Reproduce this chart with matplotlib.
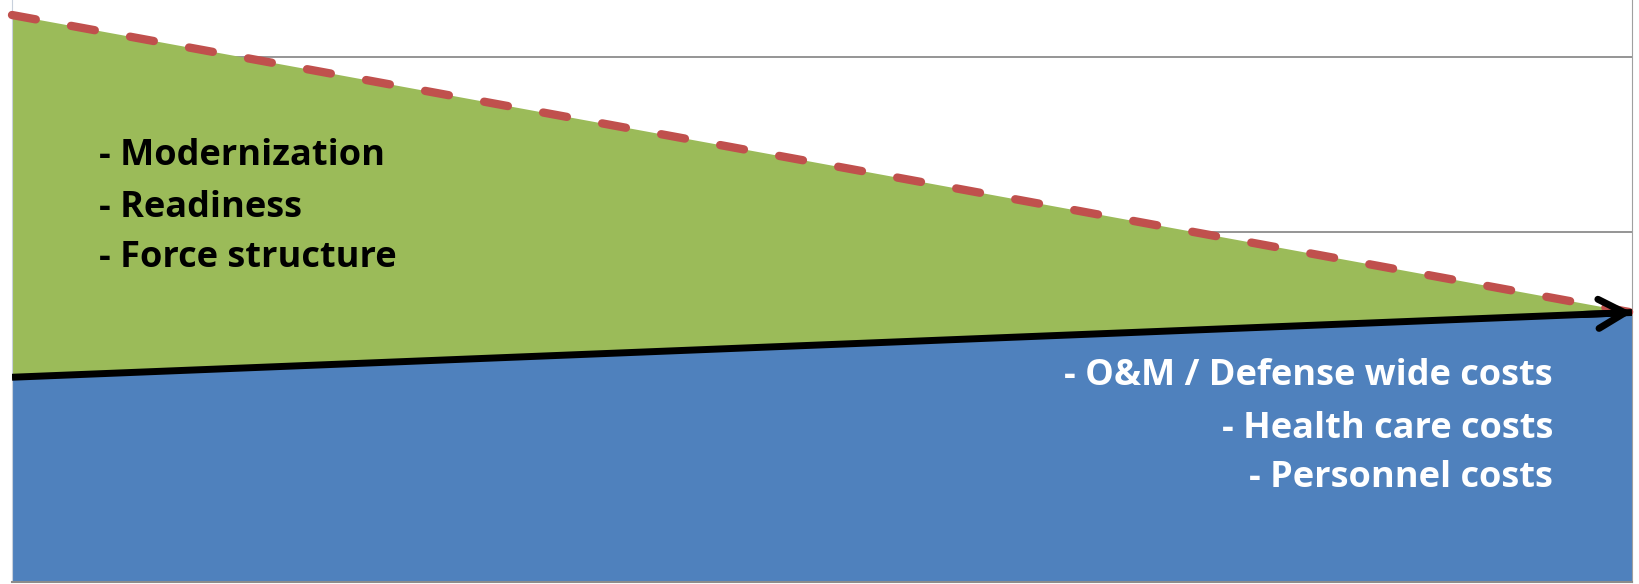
import matplotlib.pyplot as plt

# two points in time, stacked budget areas
years = [0, 1]
fixed_costs = [1.17, 1.54]      # blue area (personnel, health care, O&M)
other_costs = [2.07, 0.0]       # green area (modernization, readiness, force structure)
total = [f + o for f, o in zip(fixed_costs, other_costs)]

left_items = ["- Modernization", "- Readiness", "- Force structure"]
right_items = ["- O&M / Defense wide costs", "- Health care costs", "- Personnel costs"]

W, H = 1640, 584
fig = plt.figure(figsize=(W / 100, H / 100), dpi=100)
ax = fig.add_axes([12 / W, 2 / H, 1620 / W, 582 / H])

ax.set_xlim(0, 1)
ax.set_ylim(0, 582 / 175)
ax.set_yticks([1, 2, 3])
ax.grid(axis="y", color="#8c8c8c", lw=1.3)
ax.set_axisbelow(True)
ax.tick_params(left=False, bottom=False, labelleft=False, labelbottom=False)
ax.spines["top"].set_visible(False)
ax.spines["left"].set_color("#c8d0dc")
ax.spines["right"].set_color("#a0a0a0")
ax.spines["bottom"].set_color("#8c8c8c")
ax.spines["bottom"].set_linewidth(1.5)

ax.stackplot(years, fixed_costs, other_costs, colors=["#4f81bd", "#9bbb59"], zorder=2)

ax.plot(years, total, color="#c0504d", lw=6, dashes=(2.9, 4.3), dash_capstyle="round", zorder=3,
        clip_on=False)
ax.plot(years, fixed_costs, color="black", lw=5, solid_capstyle="butt", zorder=4)
ax.annotate("", xy=(years[1], fixed_costs[1]),
            xytext=(0.97, fixed_costs[0] + 0.97 * (fixed_costs[1] - fixed_costs[0])),
            arrowprops=dict(arrowstyle="->,head_length=1.9,head_width=1.05", color="black", lw=5,
                            shrinkA=0, shrinkB=0),
            zorder=5, annotation_clip=False)

font = "Open Sans"
for txt, base in zip(left_items, [165, 217, 267]):
    fig.text(99 / W, 1 - base / H, txt, fontsize=26, fontweight="bold", family=font,
             color="black", ha="left", va="baseline")
for txt, base in zip(right_items, [385, 438, 487]):
    fig.text(1553 / W, 1 - base / H, txt, fontsize=26, fontweight="bold", family=font,
             color="white", ha="right", va="baseline")

fig.savefig("out.png", dpi=100)
